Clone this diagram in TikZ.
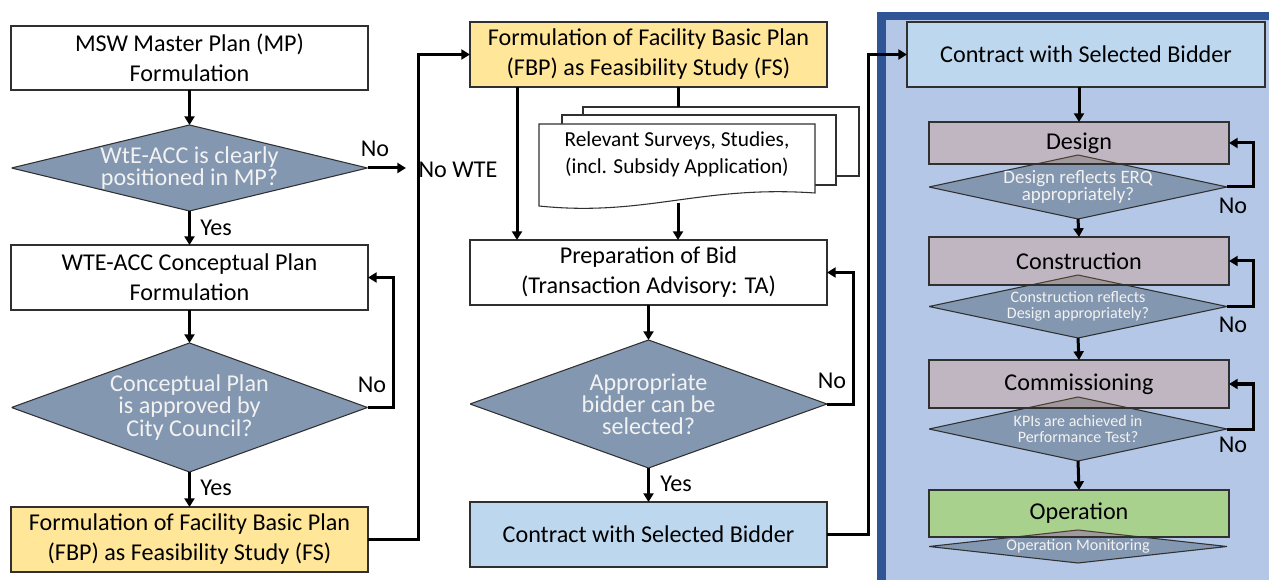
\documentclass[tikz,border=0pt]{standalone}
\usepackage{fontspec}
\setmainfont{Carlito}
\usetikzlibrary{arrows.meta,calc}
\definecolor{yel}{HTML}{FFE699}
\definecolor{lblue}{HTML}{BDD7EE}
\definecolor{panelc}{HTML}{B4C7E7}
\definecolor{panelb}{HTML}{2F5597}
\definecolor{slate}{HTML}{8497B0}
\definecolor{mauve}{HTML}{BFB6C1}
\definecolor{grn}{HTML}{A9D18E}
\definecolor{tipc}{HTML}{A09A9F}
\definecolor{edgec}{HTML}{303030}
\newcommand\fmain{\fontsize{18.1}{22.5}\selectfont}
\newcommand\fdia{\fontsize{18.1}{16.6}\selectfont}
\newcommand\fdoc{\fontsize{16}{20.2}\selectfont}
\newcommand\fbig{\fontsize{14.2}{12.6}\selectfont}
\newcommand\fsmall{\fontsize{12.1}{12.4}\selectfont}
\newcommand\fsmaller{\fontsize{12}{12.4}\selectfont}
\begin{document}
\begin{tikzpicture}[x=0.75pt,y=-0.75pt,
  sz/.style 2 args={minimum width=#1*0.75pt, minimum height=#2*0.75pt, inner sep=0pt, outer sep=0pt},
  box/.style={draw=edgec, line width=0.8pt, align=center, font=\fmain, text=black},
  dia/.style={align=center, text=white!95!black, font=\fdia,
    path picture={\fill[slate, draw=edgec, line width=0.8pt] (path picture bounding box.west) -- (path picture bounding box.north) -- (path picture bounding box.east) -- (path picture bounding box.south) -- cycle;}},
  tipof/.style={path picture={\fill[tipc, draw=edgec!80!brown, line width=0.8pt] (#1.west) -- (#1.north) -- (#1.east) -- (#1.south) -- cycle;}},
  arr/.style={line width=2.25pt, -{Triangle[length=6.5pt,width=7.5pt]}},
  ln/.style={line width=2.25pt},
  lab/.style={font=\fmain, inner sep=0pt},
  docsh/.style={fill=white, draw=edgec, line width=0.8pt}
]
\useasboundingbox (0,0) rectangle (1269,580);
\clip (0,0) rectangle (1269,580);
\fill[white] (0,0) rectangle (1269,580);

% right panel
\fill[panelc] (881.5,16) rectangle (1300,600);
\draw[panelb, line width=6.5pt] (881.5,16) rectangle (1300,600);

% left column
\node[box, fill=white, sz={357}{64}] (mp) at (189.5,58) {MSW Master Plan (MP)\\Formulation};
\node[dia, sz={356}{86}] (d1) at (189.5,168) {WtE-ACC is clearly\\positioned in MP?};
\node[box, fill=white, sz={357}{65}] (cp) at (189.5,277.5) {WTE-ACC Conceptual Plan\\Formulation};
\node[dia, sz={356}{129}] (d2) at (189.5,407.5) {Conceptual Plan\\is approved by\\City Council?};
\node[box, fill=yel, sz={357}{65}] (fbp1) at (189.5,539.5) {Formulation of Facility Basic Plan\\(FBP) as Feasibility Study (FS)};
\coordinate (noend) at (406,168);

% middle column
\node[box, fill=yel, sz={357}{65}] (fbp2) at (648.5,54.5) {Formulation of Facility Basic Plan\\(FBP) as Feasibility Study (FS)};
\draw[docsh] (583,107) rectangle (859,176);
\draw[docsh] (562,115) rectangle (836,185);
\draw[docsh] (539,124) -- (815,124) -- (815,193) .. controls (700,185) and (645,217) .. (539,206) -- cycle;
\node[font=\fdoc, align=center, inner sep=0pt] (doc) at (677,154) {Relevant Surveys, Studies,\\(incl. Subsidy Application)};
\coordinate (doctop) at (678,107);
\coordinate (docbot) at (678,203);
\node[box, fill=white, sz={357}{65}] (prep) at (648.5,272.5) {Preparation of Bid\\(Transaction Advisory: TA)};
\node[dia, sz={357}{128}] (d3) at (648.5,404) {Appropriate\\bidder can be\\selected?};
\node[box, fill=lblue, sz={357}{65}] (con1) at (648.5,534.5) {Contract with Selected Bidder};

% right column
\node[box, fill=lblue, sz={358}{65}] (con2) at (1086,54.5) {Contract with Selected Bidder};
\node[dia, sz={298}{64}, font=\fbig] (q1) at (1078,187) {Design reflects ERQ\\appropriately?};
\node[box, fill=mauve, sz={300}{42}, tipof=q1] (des) at (1079,143) {Design};
\node[dia, sz={298}{63}, font=\fsmaller] (q2) at (1078,306.5) {Construction reflects\\Design appropriately?};
\node[box, fill=mauve, sz={300}{48}, tipof=q2] (cons) at (1079,261) {Construction};
\node[dia, sz={298}{64}, font=\fsmaller] (q3) at (1078,429) {KPIs are achieved in\\Performance Test?};
\node[box, fill=mauve, sz={300}{48}, tipof=q3] (comm) at (1079,384) {Commissioning};
\node[dia, sz={298}{33}, font=\fsmall] (q4) at (1078,546.5) {Operation Monitoring};
\node[box, fill=grn, sz={300}{47}, tipof=q4] (oper) at (1079,513.5) {Operation};

% connectors left
\draw[arr] (mp) -- (d1);
\draw[arr] (d1.east) -- (noend);
\draw[arr] (d1) -- (cp);
\draw[arr] (cp) -- (d2);
\draw[arr] (d2.east) -- (393,407.5) |- (cp.east);
\draw[arr] (d2) -- (fbp1);
\draw[arr] (fbp1.east) -- (418,539.5) |- (fbp2.west);

% connectors middle
\draw[arr] ($(fbp2.south)+(-131.5,0)$) -- ($(prep.north)+(-131.5,0)$);
\draw[ln] ($(fbp2.south)+(29.5,0)$) -- (doctop);
\draw[arr] (docbot) -- ($(prep.north)+(29.5,0)$);
\draw[arr] (prep) -- (d3);
\draw[arr] (d3.east) -- (853,404) |- (prep.east);
\draw[arr] (d3) -- (con1);
\draw[arr] (con1.east) -- (868,534.5) |- (con2.west);

% connectors right
\draw[arr] (con2.south -| des.north) -- (des.north);
\draw[arr] (q1.east) -- (1253,187) |- (des.east);
\draw[arr] (q1.south) -- (cons.north);
\draw[arr] (q2.east) -- (1253,306.5) |- (cons.east);
\draw[arr] (q2.south) -- (comm.north);
\draw[arr] (q3.east) -- (1253,429) |- (comm.east);
\draw[arr] (q3.south) -- (oper.north);

% labels
\node[lab] (l1) at (375,149) {No};
\node[lab] (l2) at (216,228) {Yes};
\node[lab] (l3) at (372,385) {No};
\node[lab] (l4) at (216,488) {Yes};
\node[lab] (l5) at (458,170) {No WTE};
\node[lab] (l6) at (832,381) {No};
\node[lab] (l7) at (676,484) {Yes};
\node[lab] (l8) at (1233,206) {No};
\node[lab] (l9) at (1233,325) {No};
\node[lab] (l10) at (1233,445) {No};
\end{tikzpicture}
\end{document}
